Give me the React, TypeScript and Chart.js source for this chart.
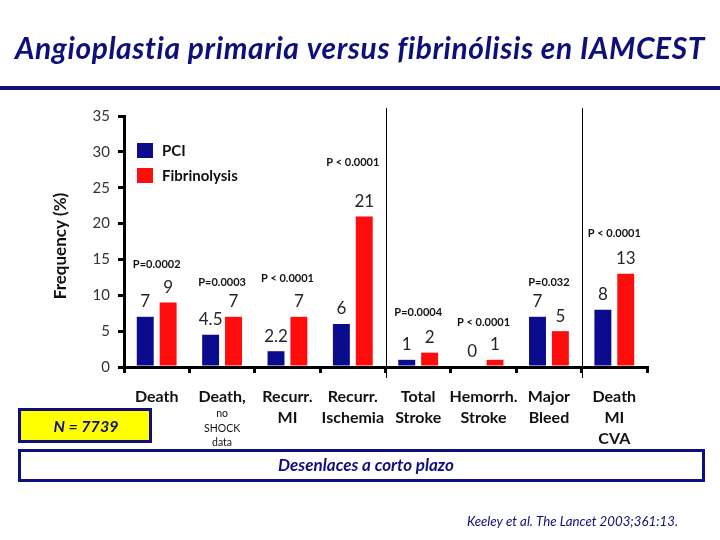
import React, { useEffect, useRef } from "react";
import { Chart, registerables } from "chart.js";

Chart.register(...registerables);

// ---- data ----
const categories: string[][] = [
  ["Death"],
  ["Death,"],
  ["Recurr.", "MI"],
  ["Recurr.", "Ischemia"],
  ["Total", "Stroke"],
  ["Hemorrh.", "Stroke"],
  ["Major", "Bleed"],
  ["Death", "MI", "CVA"],
];
const categoryNotes: string[][] = [[], ["no", "SHOCK", "data"], [], [], [], [], [], []];
const pciValues = [7, 4.5, 2.2, 6, 1, 0, 7, 8];
const fibrinolysisValues = [9, 7, 7, 21, 2, 1, 5, 13];
const pValueLabels = [
  "P=0.0002",
  "P=0.0003",
  "P < 0.0001",
  "P < 0.0001",
  "P=0.0004",
  "P < 0.0001",
  "P=0.032",
  "P < 0.0001",
];
const seriesNames = ["PCI", "Fibrinolysis"];
const yMin = 0;
const yMax = 35;
const yStep = 5;
const groupBreaks = [4, 7];
const titleText = "Angioplastia primaria versus fibrinólisis en IAMCEST";
const yAxisTitle = "Frequency (%)";
const sampleText = "N = 7739";
const footerText = "Desenlaces a corto plazo";
const sourceText = "Keeley et al. The Lancet 2003;361:13.";

// ---- styles ----
const FONT = "Lato, 'Open Sans', sans-serif";
const NAVY = "#0f0f7c";
const BLUE = "#0b0b8e";
const RED = "#ff0d0d";
const pLift = [38, 34, 38, 54, 40, 37, 34, 40];

const decorations = {
  id: "decorations",
  afterDraw(chart: any) {
    const ctx: any = chart.ctx;
    const xs = chart.scales.x;
    const area = chart.chartArea;
    ctx.save();

    // Title
    ctx.fillStyle = NAVY;
    ctx.font = `italic bold 30px ${FONT}`;
    ctx.textAlign = "center";
    ctx.textBaseline = "alphabetic";
    ctx.letterSpacing = "0.6px";
    ctx.fillText(titleText, 360, 59, 690);
    ctx.letterSpacing = "0px";
    ctx.fillRect(0, 86, 720, 4);

    // Y axis title
    ctx.save();
    ctx.translate(61, 246);
    ctx.rotate(-Math.PI / 2);
    ctx.fillStyle = "#111";
    ctx.font = `bold 17px ${FONT}`;
    ctx.textBaseline = "middle";
    ctx.fillText(yAxisTitle, 0, 0, 115);
    ctx.restore();

    // separators
    ctx.strokeStyle = "#000";
    ctx.lineWidth = 1;
    groupBreaks.forEach((b) => {
      const x = Math.round((xs.getPixelForValue(b - 1) + xs.getPixelForValue(b)) / 2) + 0.5;
      ctx.beginPath();
      ctx.moveTo(x, area.top - 8);
      ctx.lineTo(x, area.bottom + 11);
      ctx.stroke();
    });

    // value labels
    ctx.fillStyle = "#262626";
    ctx.font = `17px ${FONT}`;
    ctx.textAlign = "center";
    ctx.textBaseline = "middle";
    chart.data.datasets.forEach((ds: any, d: number) => {
      const meta = chart.getDatasetMeta(d);
      meta.data.forEach((bar: any, i: number) => {
        ctx.fillText(String(ds.data[i]), bar.x, bar.y - 15);
      });
    });

    // p-values
    const m0 = chart.getDatasetMeta(0);
    const m1 = chart.getDatasetMeta(1);
    ctx.fillStyle = "#111";
    ctx.font = `bold 11px ${FONT}`;
    pValueLabels.forEach((t, i) => {
      const top = Math.min(m0.data[i].y, m1.data[i].y);
      ctx.fillText(t, xs.getPixelForValue(i), top - pLift[i]);
    });

    // legend
    const colors = [BLUE, RED];
    ctx.textAlign = "left";
    ctx.font = `bold 15px ${FONT}`;
    seriesNames.forEach((n, i) => {
      const y = area.top + 27 + i * 25;
      ctx.fillStyle = colors[i];
      ctx.fillRect(area.left + 13, y, 16, 15);
      ctx.fillStyle = "#111";
      ctx.fillText(n, area.left + 38, y + 8);
    });

    // category labels
    ctx.textAlign = "center";
    categories.forEach((lines, i) => {
      const x = xs.getPixelForValue(i);
      ctx.fillStyle = "#111";
      ctx.font = `bold 16px ${FONT}`;
      lines.forEach((l, k) => ctx.fillText(l, x, area.bottom + 30 + k * 21));
      ctx.font = `10.5px ${FONT}`;
      categoryNotes[i].forEach((l, k) => ctx.fillText(l, x, area.bottom + 47 + k * 14.5));
    });

    // N box
    ctx.fillStyle = "#ffff00";
    ctx.fillRect(18, 408, 134, 35);
    ctx.strokeStyle = NAVY;
    ctx.lineWidth = 3;
    ctx.strokeRect(19.5, 409.5, 131, 32);
    ctx.fillStyle = NAVY;
    ctx.font = `italic bold 16px ${FONT}`;
    ctx.fillText(sampleText, 86, 427);

    // footer box
    ctx.strokeRect(19.5, 450.5, 684, 30);
    ctx.font = `italic bold 17px ${FONT}`;
    ctx.fillText(footerText, 366, 466, 186);

    // source
    ctx.textAlign = "left";
    ctx.font = `italic 13.5px ${FONT}`;
    ctx.fillText(sourceText, 467, 522, 211);

    ctx.restore();
  },
};

export default function App() {
  const ref = useRef<HTMLCanvasElement | null>(null);
  useEffect(() => {
    document.body.style.margin = "0";
    const chart = new Chart(ref.current as HTMLCanvasElement, {
      type: "bar",
      data: {
        labels: categories.map((c) => c.join(" ")),
        datasets: [
          { label: seriesNames[0], data: pciValues, backgroundColor: BLUE, borderWidth: 0 },
          { label: seriesNames[1], data: fibrinolysisValues, backgroundColor: RED, borderWidth: 0 },
        ],
      },
      options: {
        responsive: false,
        animation: false,
        devicePixelRatio: 1,
        layout: { padding: { top: 116, right: 73, bottom: 167, left: 0 } },
        plugins: { legend: { display: false }, tooltip: { enabled: false }, title: { display: false } },
        datasets: { bar: { categoryPercentage: 0.7, barPercentage: 0.74 } },
        scales: {
          x: {
            offset: true,
            grid: {
              offset: true,
              drawOnChartArea: false,
              drawTicks: true,
              tickLength: 6,
              lineWidth: 3,
              color: "#000",
            },
            border: { display: true, width: 3, color: "#000" },
            ticks: { display: false },
            afterFit: (s: any) => {
              s.height = 6;
            },
          },
          y: {
            min: yMin,
            max: yMax,
            ticks: {
              stepSize: yStep,
              color: "#333",
              font: { family: FONT, size: 15 },
              padding: 8,
            },
            grid: {
              drawOnChartArea: false,
              drawTicks: true,
              tickLength: 6,
              lineWidth: 3,
              color: "#000",
            },
            border: { display: true, width: 3, color: "#000" },
            afterFit: (s: any) => {
              s.width = 124;
            },
          },
        },
      },
      plugins: [decorations],
    } as any);
    return () => chart.destroy();
  }, []);
  return (
    <div style={{ position: "fixed", left: 0, top: 0, width: 720, height: 540, background: "#fff" }}>
      <canvas ref={ref} width={720} height={540} style={{ width: 720, height: 540, display: "block" }} />
    </div>
  );
}
